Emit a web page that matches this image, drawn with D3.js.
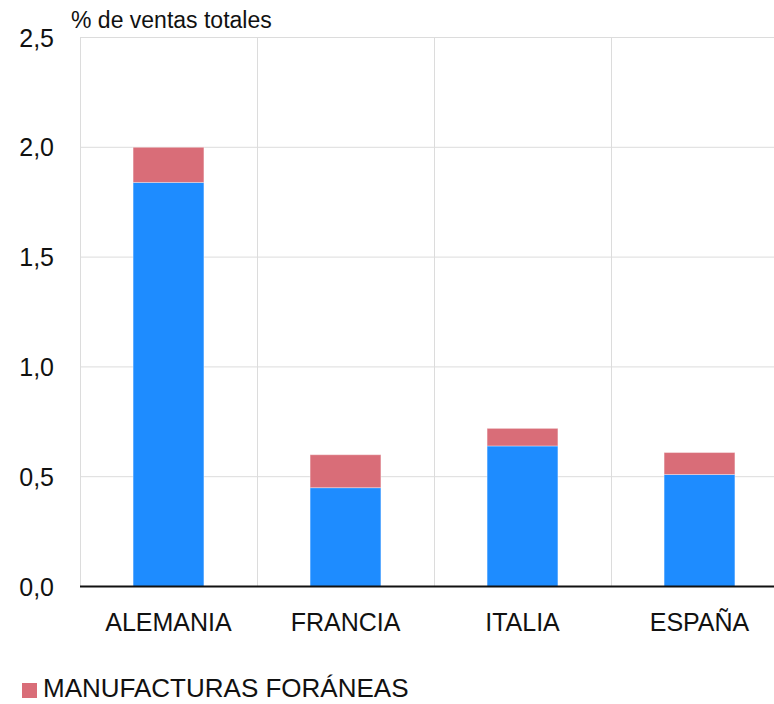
<!DOCTYPE html>
<html>
<head>
<meta charset="utf-8">
<script src="https://cdn.jsdelivr.net/npm/d3@7"></script>
<style>
  html, body { margin: 0; padding: 0; background: #fff; }
  svg { display: block; font-family: "Liberation Sans", Arial, sans-serif; }
</style>
</head>
<body>
<svg id="chart" width="774" height="704"></svg>
<script>
// Countries on the horizontal axis
const categories = ["ALEMANIA", "FRANCIA", "ITALIA", "ESPAÑA"];
// Domestic manufacturing share (% of total sales), blue segment
const nationalShare = [1.84, 0.45, 0.64, 0.51];
// Foreign manufacturing share (% of total sales), red segment
const foreignShare = [0.16, 0.15, 0.08, 0.10];
// Y axis ticks
const yTicks = [0, 0.5, 1.0, 1.5, 2.0, 2.5];

const seriesKeys = ["nacional", "foranea"];
const colors = { nacional: "#1e8cff", foranea: "#d96d78" };

const rows = categories.map((c, i) => ({
  pais: c, nacional: nationalShare[i], foranea: foreignShare[i]
}));

const svg = d3.select("#chart");
const plotLeft = 80, plotRight = 788, plotTop = 37.5, plotBottom = 586.5;

const x = d3.scaleBand().domain(categories).range([plotLeft, plotRight])
  .paddingInner(0.6).paddingOuter(0.3);
const y = d3.scaleLinear().domain([0, 2.5]).range([plotBottom, plotTop]);

const fmt = d => d3.format(".1f")(d).replace(".", ",");

// Horizontal grid
svg.append("g").selectAll("line").data(yTicks.filter(d => d > 0)).join("line")
  .attr("x1", plotLeft).attr("x2", plotRight)
  .attr("y1", d => y(d)).attr("y2", d => y(d))
  .attr("stroke", "#dcdcdc").attr("stroke-width", 1);

// Vertical grid at category boundaries
const step = x.step();
const bounds = categories.map(c => x(c) - step * x.paddingOuter()).concat([plotRight]);
svg.append("g").selectAll("line").data(bounds).join("line")
  .attr("x1", d => Math.round(d) + 0.5).attr("x2", d => Math.round(d) + 0.5)
  .attr("y1", plotTop).attr("y2", plotBottom)
  .attr("stroke", "#dcdcdc").attr("stroke-width", 1);

// Stacked bars
const stacked = d3.stack().keys(seriesKeys)(rows);
svg.append("g").selectAll("g").data(stacked).join("g")
  .attr("fill", s => colors[s.key])
  .selectAll("rect").data(s => s).join("rect")
  .attr("x", d => x(d.data.pais))
  .attr("width", x.bandwidth())
  .attr("y", d => y(d[1]))
  .attr("height", d => y(d[0]) - y(d[1]))
  .attr("stroke", "rgba(255,255,255,0.35)")
  .attr("stroke-width", 1);

// Baseline
svg.append("line")
  .attr("x1", plotLeft).attr("x2", plotRight)
  .attr("y1", y(0)).attr("y2", y(0))
  .attr("stroke", "#111").attr("stroke-width", 2.2);

// Y tick labels
svg.append("g").selectAll("text").data(yTicks).join("text")
  .attr("x", 54).attr("y", d => y(d))
  .attr("dy", "0.36em")
  .attr("text-anchor", "end")
  .attr("font-size", 25)
  .attr("fill", "#111")
  .text(fmt);

// Category labels
svg.append("g").selectAll("text").data(categories).join("text")
  .attr("x", d => x(d) + x.bandwidth() / 2)
  .attr("y", 631)
  .attr("text-anchor", "middle")
  .attr("font-size", 25)
  .attr("fill", "#111")
  .text(d => d);

// Unit label
svg.append("text")
  .attr("x", 71).attr("y", 28)
  .attr("font-size", 23)
  .attr("fill", "#111")
  .text("% de ventas totales");

// Legend
const legend = svg.append("g").attr("transform", "translate(22,683)");
legend.append("rect").attr("width", 15).attr("height", 15).attr("fill", colors.foranea);
legend.append("text")
  .attr("x", 21).attr("y", 14)
  .attr("font-size", 26)
  .attr("fill", "#111")
  .text("MANUFACTURAS FORÁNEAS");
</script>
</body>
</html>
